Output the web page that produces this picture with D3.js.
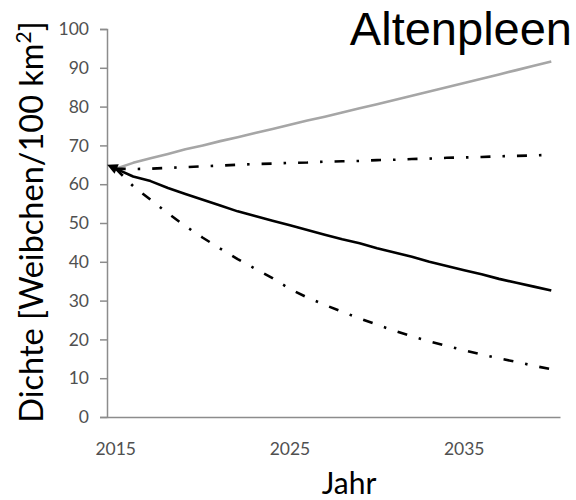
<!DOCTYPE html>
<html><head><meta charset="utf-8">
<script src="https://cdn.jsdelivr.net/npm/d3@7"></script>
<style>body{margin:0;background:#fff}</style>
</head><body>
<svg id="c" width="576" height="500"></svg>
<script>
const years = d3.range(2015, 2041);
const grayUp   = [64,65.5,66.7,67.8,69,70,71.1,72.1,73.2,74.2,75.3,76.4,77.4,78.5,79.6,80.6,81.7,82.8,83.9,85,86.1,87.2,88.3,89.4,90.5,91.6];
const dashUp   = [64,63.9,64.0,64.2,64.4,64.6,64.8,65.0,65.2,65.3,65.5,65.6,65.8,65.9,66.0,66.2,66.3,66.5,66.6,66.8,66.9,67.0,67.2,67.3,67.4,67.6];
const solidMid = [64,62,60.8,59.0,57.5,56,54.5,53,51.8,50.6,49.4,48.2,47,45.8,44.8,43.5,42.4,41.3,40.0,38.9,37.8,36.8,35.6,34.6,33.6,32.6];
const dashLow  = [64,59.5,56,52.5,49.2,46.2,43.4,40.7,38.2,35.8,33.0,30.8,28.9,27.1,25.4,23.8,22.2,20.8,19.5,18.3,17.2,16.1,15.1,14.2,13.2,12.3];
const yTicks = d3.range(0, 101, 10);
const xTickLabels = [2015, 2025, 2035];
const title = "Altenpleen";
const xTitle = "Jahr";

const svg = d3.select("#c");
const x = d3.scaleBand().domain(years).range([107, 560]);
const y = d3.scaleLinear().domain([0, 100]).range([417, 29]);
const cx = d => x(d) + x.bandwidth() / 2;
const axisColor = "#8c8c8c";

// y axis
const ya = svg.append("g").attr("transform", "translate(107,0)")
  .call(d3.axisLeft(y).tickValues(yTicks).tickSize(7).tickPadding(11));
ya.select(".domain").attr("stroke", axisColor).attr("stroke-width", 1.5);
ya.selectAll(".tick line").attr("stroke", axisColor).attr("stroke-width", 1.5);
ya.selectAll(".tick text").attr("font-family", "Lato, 'Open Sans', sans-serif")
  .attr("font-size", 17.5).attr("fill", "#505050");

// x axis
const xa = svg.append("g").attr("transform", "translate(0,417)")
  .call(d3.axisBottom(x).tickValues(xTickLabels).tickSize(0).tickPadding(26).tickSizeOuter(0));
xa.select(".domain").attr("stroke", axisColor).attr("stroke-width", 1.5);
xa.selectAll(".tick text").attr("font-family", "Lato, 'Open Sans', sans-serif")
  .attr("font-size", 17.5).attr("fill", "#505050");

// marker
svg.append("defs").append("marker").attr("id", "arr")
  .attr("viewBox", "0 0 10 10").attr("refX", 1).attr("refY", 5)
  .attr("markerWidth", 5).attr("markerHeight", 4).attr("orient", "auto-start-reverse")
  .attr("markerUnits", "strokeWidth")
  .append("path").attr("d", "M0,0L10,5L0,10z").attr("fill", "#000");

const line = d3.line().x((d, i) => cx(years[i])).y(d => y(d));
const series = [
  {v: grayUp, color: "#a6a6a6", dash: null},
  {v: dashUp, color: "#000", dash: "10,12,2.5,12"},
  {v: dashLow, color: "#000", dash: "10,12,2.5,12"},
  {v: solidMid, color: "#000", dash: null, marker: true}
];
series.forEach(s => {
  const p = svg.append("path").datum(s.v).attr("d", line)
    .attr("fill", "none").attr("stroke", s.color).attr("stroke-width", 2.6)
    .attr("stroke-linejoin", "round");
  if (s.dash) p.attr("stroke-dasharray", s.dash);
  if (s.marker) p.attr("marker-start", "url(#arr)");
});

// titles
svg.append("text").attr("x", 572).attr("y", 45).attr("text-anchor", "end")
  .attr("font-family", "'Liberation Sans', Arial, sans-serif").attr("font-size", 47)
  .attr("fill", "#000").text(title);

svg.append("text").attr("x", 349).attr("y", 494).attr("text-anchor", "middle")
  .attr("font-family", "Lato, 'Open Sans', sans-serif").attr("font-size", 30)
  .attr("fill", "#000").text(xTitle);

const yt = svg.append("text").attr("transform", "translate(43,222) rotate(-90)")
  .attr("text-anchor", "middle").attr("font-family", "Lato, 'Open Sans', sans-serif")
  .attr("font-size", 32.5).attr("fill", "#000");
yt.append("tspan").text("Dichte [Weibchen/100 km");
yt.append("tspan").attr("font-size", 21).attr("dy", -12).text("2");
yt.append("tspan").attr("dy", 12).text("]");
</script>
</body></html>
